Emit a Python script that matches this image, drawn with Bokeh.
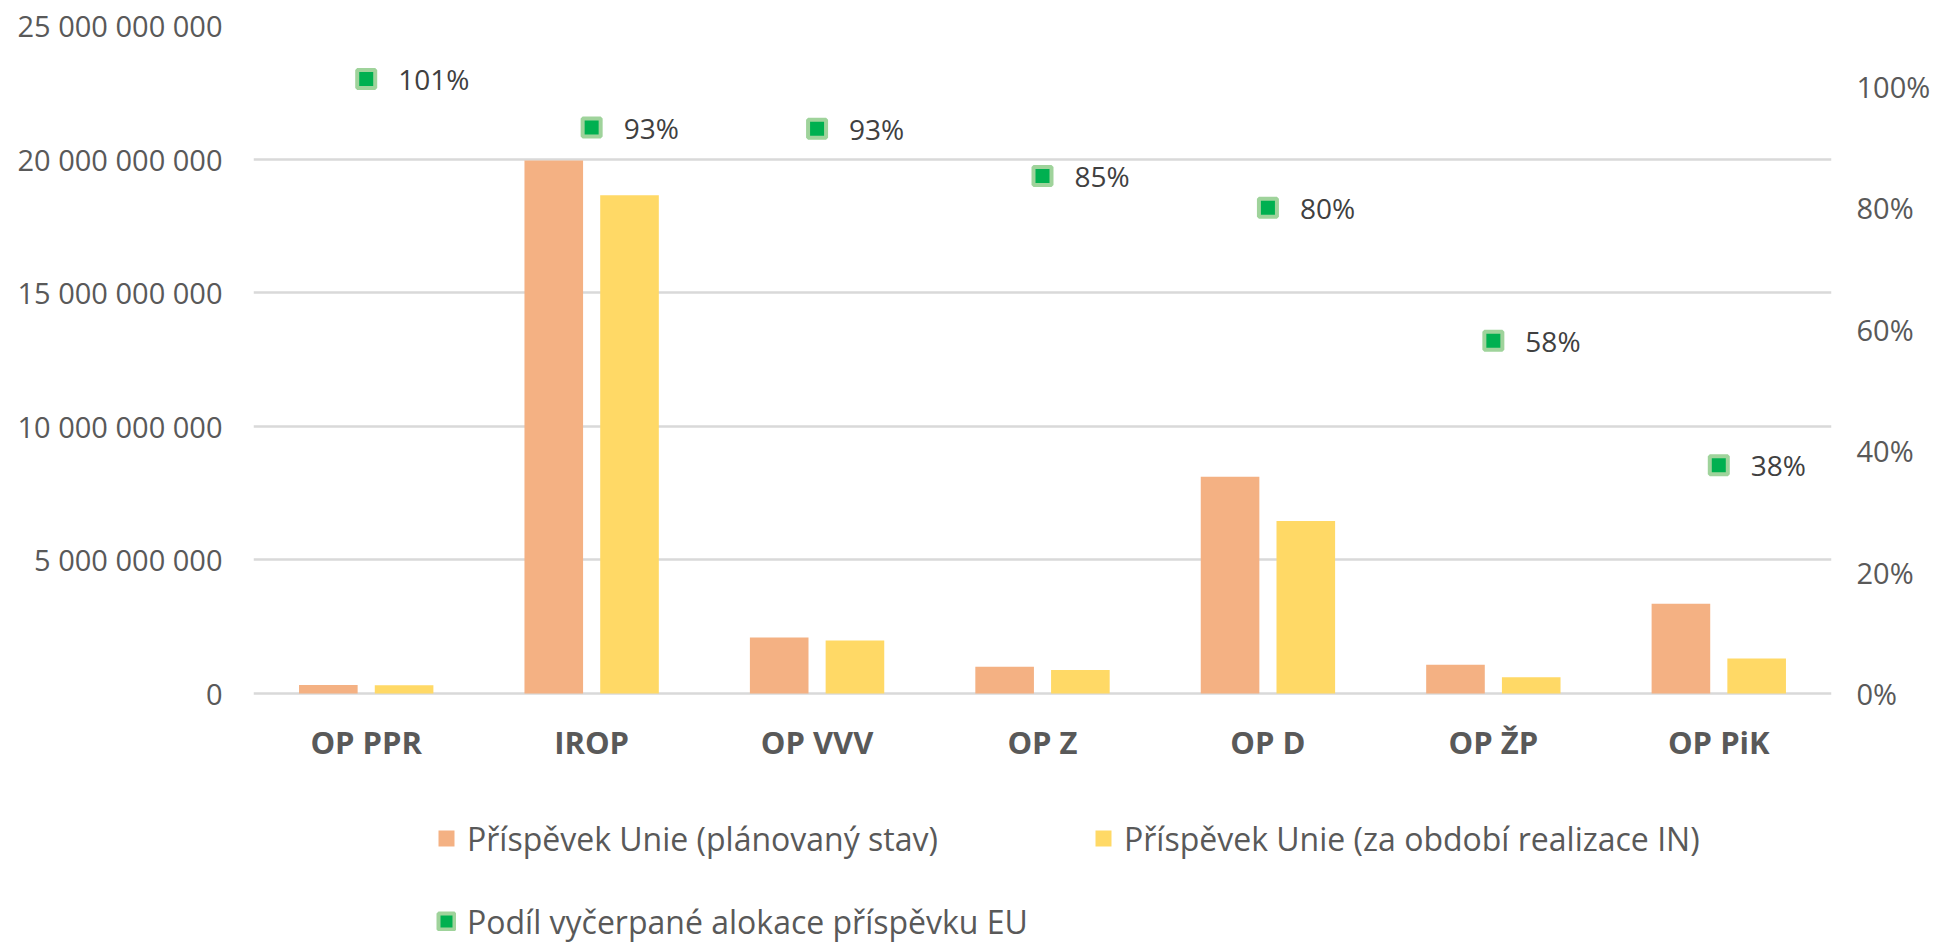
from bokeh.plotting import figure
from bokeh.models import (ColumnDataSource, FactorRange, Range1d, LinearAxis,
                          FixedTicker, Legend, LegendItem, NumeralTickFormatter)
from bokeh.transform import dodge
from bokeh.core.properties import value
from bokeh.embed import file_html
from bokeh.resources import INLINE

categories = ["OP PPR", "IROP", "OP VVV", "OP Z", "OP D", "OP ŽP", "OP PiK"]
planned = [0.32e9, 19.95e9, 2.10e9, 1.00e9, 8.11e9, 1.08e9, 3.36e9]
realized = [0.31e9, 18.65e9, 1.98e9, 0.88e9, 6.46e9, 0.61e9, 1.31e9]
share = [1.012, 0.932, 0.930, 0.852, 0.800, 0.581, 0.376]
share_labels = ["%d%%" % round(v * 100) for v in share]

left_ticks = [0, 5e9, 10e9, 15e9, 20e9, 25e9]
left_tick_labels = ["0", "5 000 000 000", "10 000 000 000", "15 000 000 000",
                    "20 000 000 000", "25 000 000 000"]
right_ticks = [0, 0.2, 0.4, 0.6, 0.8, 1.0]
left_max, right_max = 25e9, 1.1

series_names = ["Příspěvek Unie (plánovaný stav)",
                "Příspěvek Unie (za období realizace IN)",
                "Podíl vyčerpané alokace příspěvku EU"]

FONT = "Open Sans"
GRAY = "#595959"

# layout (pixels)
W, H = 1936, 942
TOP, ZERO = 25, 693          # y of the top gridline and of the zero line
LEFT, RIGHT = 253, 1831      # frame left / right
below = (H - ZERO) / (ZERO - TOP)   # fraction of the value span kept below zero

src = ColumnDataSource(dict(cat=categories, planned=planned, realized=realized,
                            share=share, lab=share_labels,
                            zero=[0] * len(categories)))

p = figure(x_range=FactorRange(*categories),
           y_range=Range1d(-left_max * below, left_max),
           width=W, height=H, output_backend="svg", toolbar_location=None,
           min_border_left=LEFT, min_border_right=W - RIGHT, min_border_top=TOP,
           min_border_bottom=0)
p.extra_y_ranges = {"pct": Range1d(-right_max * below, right_max)}
p.outline_line_color = None
p.background_fill_color = "white"
p.border_fill_color = "white"

r1 = p.vbar(x=dodge("cat", -0.168, range=p.x_range), top="planned", width=0.26,
            source=src, fill_color="#F4B183", line_color=None)
r2 = p.vbar(x=dodge("cat", 0.168, range=p.x_range), top="realized", width=0.26,
            source=src, fill_color="#FFD966", line_color=None)
r3 = p.rect(x="cat", y="share", width=18, height=18, width_units="screen",
            height_units="screen", y_range_name="pct", source=src,
            fill_color="#00B050", line_color="#9FD39B", line_width=4)
p.text(x="cat", y="share", text="lab", y_range_name="pct", source=src,
       x_offset=32, text_baseline="middle", text_align="left",
       text_font=value(FONT), text_font_size="28px", text_color="#404040")

# category labels, placed under the zero line
p.text(x="cat", y="zero", text="cat", source=src, y_offset=48,
       text_baseline="middle", text_align="center", text_font=value(FONT),
       text_font_style="bold", text_font_size="31px", text_color=GRAY)
p.xaxis.visible = False

# left axis
ya = p.yaxis[0]
ya.ticker = FixedTicker(ticks=left_ticks)
ya.major_label_overrides = {t: l for t, l in zip(left_ticks, left_tick_labels)}
ya.axis_line_color = None
ya.major_tick_line_color = None
ya.minor_tick_line_color = None
ya.major_tick_out = 0
ya.major_label_standoff = 31
ya.major_label_text_font = FONT
ya.major_label_text_font_size = "29px"
ya.major_label_text_color = GRAY

# right axis
ra = LinearAxis(y_range_name="pct", ticker=FixedTicker(ticks=right_ticks),
                formatter=NumeralTickFormatter(format="0%"))
ra.axis_line_color = None
ra.major_tick_line_color = None
ra.minor_tick_line_color = None
ra.major_tick_out = 0
ra.major_label_standoff = 25
ra.major_label_text_font = FONT
ra.major_label_text_font_size = "29px"
ra.major_label_text_color = GRAY
p.add_layout(ra, "right")

p.xgrid.grid_line_color = None
p.ygrid.ticker = FixedTicker(ticks=left_ticks)
p.ygrid.grid_line_color = "#D9D9D9"
p.ygrid.grid_line_width = 2.5

LH = 46
common = dict(glyph_width=20, glyph_height=20, label_height=LH, label_standoff=11,
              padding=0, margin=0, border_line_color=None,
              background_fill_alpha=0, label_text_font=FONT,
              label_text_font_size="32px", label_text_color=GRAY,
              label_text_baseline="middle")
row1_center, row2_center = 838, 921
legA = Legend(items=[LegendItem(label=series_names[0], renderers=[r1]),
                     LegendItem(label=series_names[1], renderers=[r2])],
              orientation="horizontal", label_width=588, spacing=38,
              location=(436 - LEFT, H - row1_center - LH / 2), **common)
legB = Legend(items=[LegendItem(label=series_names[2], renderers=[r3])],
              orientation="horizontal",
              location=(436 - LEFT, H - row2_center - LH / 2), **common)
p.add_layout(legA, "center")
p.add_layout(legB, "center")

open("out.html", "w").write(file_html(p, INLINE))
